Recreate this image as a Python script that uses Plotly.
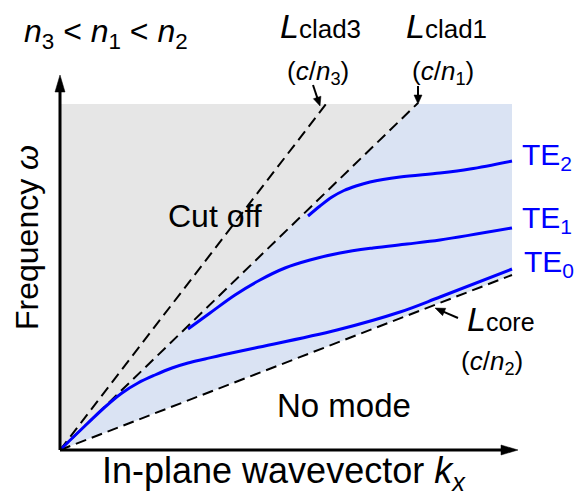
import math
import plotly.graph_objects as go

# ---------------- data (schematic units) ----------------
k_clad3 = [0, 266]
w_clad3 = [0, 346]
k_clad1 = [0, 358]
w_clad1 = [0, 347]
k_core = [0, 452]
w_core = [0, 175]
w_top = 346
k_right = 452

te0_k = [0, 28, 45, 62, 78, 95, 112, 128, 145, 162, 195, 277, 340, 380, 452]
te0_w = [0, 27, 43, 57, 67, 75, 82, 87, 91, 95, 102, 120, 138, 153, 181]
te1_k = [128, 150, 175, 200, 225, 250, 280, 313, 347, 380, 452]
te1_w = [121, 137, 155, 170, 182, 190, 197, 202, 206, 210, 222]
te2_k = [248, 260, 272, 284, 296, 310, 340, 380, 410, 452]
te2_w = [234, 244, 253, 259.5, 264, 268, 273, 277, 281, 289]

k_axis_end = 458
w_axis_end = 375

FONT = "Liberation Sans, Arial, sans-serif"
BLUE = "#0000ff"

fig = go.Figure()

# regions
fig.add_trace(go.Scatter(x=[0, 0, k_clad1[1], 0], y=[0, w_top, w_top, 0], fill="toself",
                         fillcolor="#e6e6e6", line=dict(width=0), mode="lines", hoverinfo="skip"))
fig.add_trace(go.Scatter(x=[0, k_clad1[1], k_right, k_right, 0],
                         y=[0, w_top, w_top, w_core[1], 0], fill="toself",
                         fillcolor="#dae3f3", line=dict(width=0), mode="lines", hoverinfo="skip"))

# light lines
for kk, ww in [(k_clad3, w_clad3), (k_clad1, w_clad1), (k_core, w_core)]:
    fig.add_trace(go.Scatter(x=kk, y=ww, mode="lines", hoverinfo="skip",
                             line=dict(color="black", width=2, dash="11px,6px")))

# modes
for kk, ww in [(te0_k, te0_w), (te1_k, te1_w), (te2_k, te2_w)]:
    fig.add_trace(go.Scatter(x=kk, y=ww, mode="lines", hoverinfo="skip",
                             line=dict(color=BLUE, width=3, shape="spline", smoothing=1)))

shapes = []

def arrow(x0, y0, x1, y1, lw, hl, hw):
    dx, dy = x1 - x0, y1 - y0
    L = math.hypot(dx, dy)
    ux, uy = dx / L, dy / L
    px, py = -uy, ux
    bx, by = x1 - ux * hl, y1 - uy * hl
    shapes.append(dict(type="line", x0=x0, y0=y0, x1=bx + ux * 1, y1=by + uy * 1,
                       line=dict(color="black", width=lw), layer="above"))
    path = "M{:.2f},{:.2f} L{:.2f},{:.2f} L{:.2f},{:.2f} Z".format(
        x1, y1, bx + px * hw / 2, by + py * hw / 2, bx - px * hw / 2, by - py * hw / 2)
    shapes.append(dict(type="path", path=path, fillcolor="black",
                       line=dict(color="black", width=0.5), layer="above"))

# axes
arrow(0, 0, 0, w_axis_end, 3, 17, 10)
arrow(0, 0, k_axis_end, 0, 3, 17, 10)
# pointers
arrow(253, 365, 260, 344, 2, 9, 8)
arrow(358, 364, 358, 346, 2, 9, 8)
arrow(398, 132, 375, 142, 2, 10, 8)

def txt(x, y, s, size, color="black", xanchor="center", yanchor="middle", angle=0):
    return dict(x=x, y=y, xref="x", yref="y", text=s, showarrow=False,
                font=dict(family=FONT, size=size, color=color),
                xanchor=xanchor, yanchor=yanchor, textangle=angle)

ann = [
    txt(46, 417, "<i>n</i><sub>3</sub> &lt; <i>n</i><sub>1</sub> &lt; <i>n</i><sub>2</sub>", 32),
    txt(260, 424, "<i>L</i><span style='font-size:26px'>clad3</span>", 34),
    txt(258, 378, "(<i>c</i>/<i>n</i><sub>3</sub>)", 26),
    txt(386, 424, "<i>L</i><span style='font-size:26px'>clad1</span>", 34),
    txt(383, 378, "(<i>c</i>/<i>n</i><sub>1</sub>)", 26),
    txt(155, 234, "Cut off", 32),
    txt(460, 294, "TE<sub>2</sub>", 30, BLUE, xanchor="left"),
    txt(460, 231, "TE<sub>1</sub>", 30, BLUE, xanchor="left"),
    txt(462, 187, "TE<sub>0</sub>", 30, BLUE, xanchor="left"),
    txt(441, 131, "<i>L</i><span style='font-size:25px'>core</span>", 34),
    txt(432, 88, "(<i>c</i>/<i>n</i><sub>2</sub>)", 26),
    txt(284, 45, "No mode", 33),
    txt(224, -23, "In-plane wavevector <i>k<sub>x</sub></i>", 36),
    txt(-33, 212, "Frequency <i>ω</i>", 32, angle=-90),
]

fig.update_layout(
    width=576, height=496, margin=dict(l=0, r=0, t=0, b=0),
    paper_bgcolor="white", plot_bgcolor="white", showlegend=False,
    xaxis=dict(range=[-60, 516], visible=False, fixedrange=True),
    yaxis=dict(range=[-46, 450], visible=False, fixedrange=True),
    shapes=shapes, annotations=ann,
)

fig.write_html("out.html", config={"displayModeBar": False},
               post_script="document.body.style.margin='0px';document.body.style.overflow='hidden';")
